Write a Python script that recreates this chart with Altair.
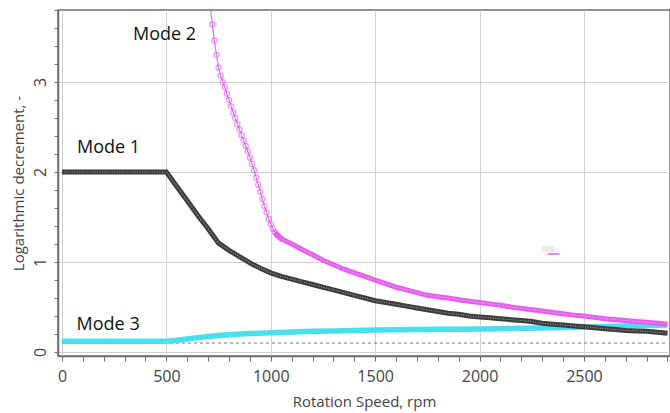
import altair as alt
import pandas as pd

# ---- data ----
mode1_rpm = list(range(0, 2901, 50))
mode1_val = [2.0, 2.0, 2.0, 2.0, 2.0, 2.0, 2.0, 2.0, 2.0, 2.0, 2.0,
             1.84, 1.68, 1.52, 1.37, 1.21,
             1.13, 1.06, 0.99, 0.93, 0.88,
             0.84, 0.81, 0.78, 0.75, 0.72,
             0.69, 0.66, 0.63, 0.60, 0.57,
             0.55, 0.53, 0.51, 0.49, 0.47,
             0.45, 0.43, 0.42, 0.40, 0.39,
             0.38, 0.37, 0.36, 0.35, 0.34,
             0.32, 0.31, 0.30, 0.29, 0.28,
             0.27, 0.26, 0.25, 0.24, 0.235,
             0.23, 0.22, 0.21]

mode2_rpm = list(range(710, 1051, 10)) + list(range(1100, 2901, 50))
mode2_val = [3.85, 3.64, 3.46, 3.30, 3.16, 3.07, 3.00, 2.94, 2.87, 2.80,
             2.73, 2.66, 2.60, 2.53, 2.47, 2.41, 2.35, 2.29, 2.23, 2.16,
             2.09, 2.02, 1.94, 1.86, 1.78, 1.70, 1.62, 1.55, 1.48, 1.42,
             1.37, 1.33, 1.30, 1.28, 1.26,
             1.20, 1.14, 1.08, 1.02, 0.97, 0.92, 0.88, 0.84, 0.80, 0.76,
             0.72, 0.69, 0.66, 0.63, 0.615, 0.60, 0.58, 0.565, 0.55, 0.535,
             0.52, 0.50, 0.485, 0.47, 0.455, 0.44, 0.425, 0.41, 0.40, 0.385,
             0.37, 0.36, 0.35, 0.34, 0.33, 0.32, 0.31]

mode3_rpm = [0, 100, 200, 300, 400, 500, 550, 600, 650, 700, 750, 800] + list(range(900, 2901, 100))
mode3_val = [0.12, 0.12, 0.12, 0.12, 0.12, 0.12,
             0.13, 0.145, 0.16, 0.172, 0.183, 0.192,
             0.205, 0.215, 0.223, 0.23, 0.235, 0.24, 0.244, 0.247, 0.25, 0.252,
             0.254, 0.256, 0.26, 0.264, 0.268, 0.272, 0.278, 0.284, 0.29, 0.295, 0.30]

limit_rpm = [0, 2900]
limit_val = [0.1, 0.1]

label_text = ["Mode 1", "Mode 2", "Mode 3"]
label_rpm = [72, 340, 70]
label_val = [2.27, 3.52, 0.30]

# small legend remnant visible in the reference
stub_rpm = [2326, 2382]
stub_val = [1.09, 1.09]
box_rpm = [2297, 2361]
box_val = [1.11, 1.18]

x_ticks = list(range(0, 2901, 100))
y_ticks = [round(i * 0.2, 1) for i in range(0, 20)]

FONT = "Open Sans"
TXT = "#444444"

m1 = pd.DataFrame({"rpm": mode1_rpm, "val": mode1_val})
m2 = pd.DataFrame({"rpm": mode2_rpm, "val": mode2_val})
m3 = pd.DataFrame({"rpm": mode3_rpm, "val": mode3_val})
lim = pd.DataFrame({"rpm": limit_rpm, "val": limit_val})
lab = pd.DataFrame({"rpm": label_rpm, "val": label_val, "text": label_text})
stub = pd.DataFrame({"rpm": [stub_rpm[0]], "rpm2": [stub_rpm[1]], "val": [stub_val[0]]})
box = pd.DataFrame({"rpm": [box_rpm[0]], "rpm2": [box_rpm[1]], "val": [box_val[0]], "val2": [box_val[1]]})

xscale = alt.Scale(domain=[-19, 2912], nice=False, zero=False)
yscale = alt.Scale(domain=[-0.044, 3.8], nice=False, zero=False)

xaxis = alt.Axis(
    values=x_ticks,
    labelExpr="datum.value % 500 === 0 ? format(datum.value, 'd') : ''",
    gridColor={"condition": {"test": "datum.value % 500 === 0", "value": "#d2d2d2"}, "value": "transparent"},
    title="Rotation Speed, rpm",
    tickSize=5, labelPadding=7, titlePadding=10,
    labelFlush=False, labelOverlap=False,
)
yaxis = alt.Axis(
    values=y_ticks,
    labelExpr="datum.value % 1 === 0 ? format(datum.value, 'd') : ''",
    gridColor={"condition": {"test": "datum.value % 1 === 0", "value": "#d2d2d2"}, "value": "transparent"},
    title="Logarithmic decrement, -",
    tickSize=4, labelAngle=270, labelPadding=6, titlePadding=6,
    labelFlush=False, labelOverlap=False,
)

X = alt.X("rpm:Q", scale=xscale, axis=xaxis)
Y = alt.Y("val:Q", scale=yscale, axis=yaxis)
X2 = alt.X2("rpm2:Q")
Y2 = alt.Y2("val2:Q")

limit_line = alt.Chart(lim).mark_line(color="#777777", strokeDash=[3, 3], strokeWidth=1, clip=True).encode(x=X, y=Y)

m3_band = alt.Chart(m3).mark_line(color="#48dff0", strokeWidth=5.5, clip=True).encode(x=X, y=Y)
m1_band = alt.Chart(m1).mark_line(color="#3c3c3c", strokeWidth=5, clip=True).encode(x=X, y=Y)
m1_inner = alt.Chart(m1).mark_line(color="#9a9a9a", strokeWidth=1.2, strokeDash=[1, 1.5], clip=True).encode(x=X, y=Y)

m2_thin = alt.Chart(m2).transform_filter("datum.rpm <= 1050").mark_line(
    color="#e070f2", strokeWidth=1.2, clip=True).encode(x=X, y=Y)
m2_pts = alt.Chart(m2).transform_filter("datum.rpm <= 1050").mark_point(
    shape="circle", filled=False, color="#e060f0", size=28, strokeWidth=1.2, clip=True).encode(x=X, y=Y)
m2_band = alt.Chart(m2).transform_filter("datum.rpm >= 1020").mark_line(
    color="#e45cf0", strokeWidth=5, clip=True).encode(x=X, y=Y)
m2_inner = alt.Chart(m2).transform_filter("datum.rpm >= 1020").mark_line(
    color="#f4b0f8", strokeWidth=1.2, strokeDash=[1, 1.5], clip=True).encode(x=X, y=Y)

stub_line = alt.Chart(stub).mark_rule(color="#e060f0", strokeWidth=1.5).encode(x=X, x2=X2, y=Y)
box_rect = alt.Chart(box).mark_rect(color="#ececec").encode(x=X, x2=X2, y=Y, y2=Y2)

labels = alt.Chart(lab).mark_text(
    align="left", baseline="middle", font=FONT, fontSize=18, color="#111111"
).encode(x=X, y=Y, text="text:N")

chart = alt.layer(
    limit_line, box_rect, stub_line, m3_band, m1_band, m1_inner, m2_band, m2_inner, m2_thin, m2_pts, labels
).properties(
    width=612, height=346,
    padding={"left": 58, "top": 10, "right": 0, "bottom": 57},
    autosize=alt.AutoSizeParams(type="none"),
    background="white",
).configure_view(
    stroke="#6e6e6e", strokeWidth=1.5
).configure_axis(
    labelFont=FONT, labelFontSize=16, labelColor=TXT,
    titleFont=FONT, titleFontSize=15, titleColor=TXT, titleFontWeight="normal",
    domainColor="#6e6e6e", domainWidth=1.5, tickColor="#6e6e6e", tickWidth=1,
    gridWidth=1,
)

chart.save("out.html", embed_options={"renderer": "svg", "actions": False})
